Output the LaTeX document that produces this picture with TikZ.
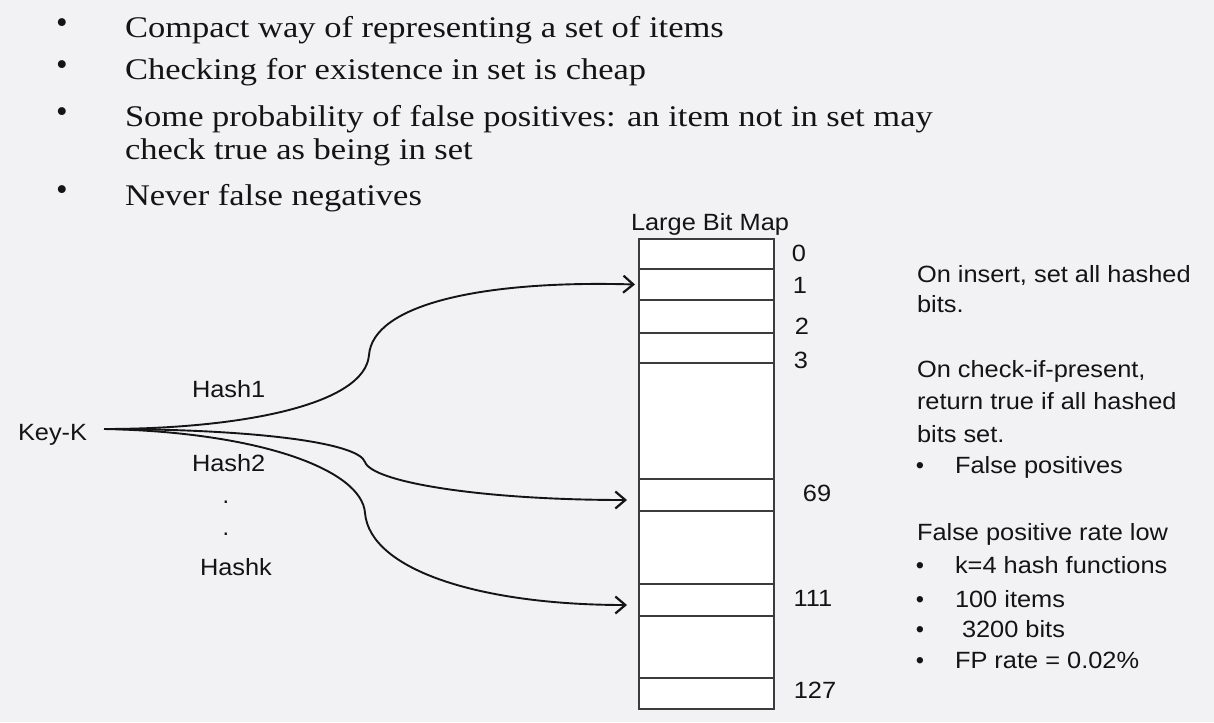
\documentclass[tikz,border=0pt]{standalone}
\usepackage{fontspec}
\usepackage{graphicx}
\setmainfont{Liberation Serif}
\newfontfamily\arialf{Liberation Sans}
\usetikzlibrary{arrows.meta}
\definecolor{bgc}{RGB}{242,242,245}
\definecolor{ink}{RGB}{20,20,20}
\definecolor{boxc}{RGB}{60,60,60}
\newcommand\topfnt{\fontsize{30}{32}\selectfont}
\newcommand\topbul{\fontsize{33}{33}\selectfont}
\newcommand\sansfnt{\arialf\fontsize{23.5}{26}\selectfont}
\newcommand\sxs[1]{\scalebox{1.15}[1]{#1}}
\newcommand\sxa[1]{\scalebox{1.08}[1]{#1}}
\begin{document}
\begin{tikzpicture}[x=1pt,y=-1pt,
  tline/.style={anchor=base west, inner sep=0pt, outer sep=0pt, text=ink, font=\topfnt},
  tbul/.style={anchor=center, inner sep=0pt, text=ink, font=\topbul},
  sline/.style={anchor=base west, inner sep=0pt, outer sep=0pt, text=ink, font=\sansfnt},
  sbul/.style={anchor=base, inner sep=0pt, text=ink, font=\sansfnt},
  slab/.style={anchor=center, inner sep=0pt, text=ink, font=\sansfnt},
  cell/.style={draw=boxc, fill=white, line width=2pt, anchor=north west, minimum width=135pt, inner sep=0pt, outer sep=0pt},
  hashline/.style={draw=ink, line width=1.9pt, -{Straight Barb[length=10pt,width=17pt,line width=2.2pt]}}
]
\useasboundingbox (0,0) rectangle (1214,722);
\fill[bgc] (0,0) rectangle (1214,722);

% top bullets
\node[tbul] (b1) at (62,26) {•};
\node[tline] (t1) at (125,38) {\sxs{Compact way of representing a set of items}};
\node[tbul] (b2) at (62,68) {•};
\node[tline] (t2) at (125,80) {\sxs{Checking for existence in set is cheap}};
\node[tbul] (b3) at (62,115) {•};
\node[tline] (t3) at (125,127) {\sxs{Some probability of false positives: an item not in set may}};
\node[tline] (t3b) at (125,160) {\sxs{check true as being in set}};
\node[tbul] (b4) at (62,193) {•};
\node[tline] (t4) at (125,205) {\sxs{Never false negatives}};

% bit map
\node[anchor=base, inner sep=0pt, text=ink, font=\sansfnt] (title) at (710,230) {\sxa{Large Bit Map}};
\node[cell, minimum height=30pt] (r0) at (639,239) {};
\node[cell, minimum height=31pt] (r1) at (639,269) {};
\node[cell, minimum height=33pt] (r2) at (639,300) {};
\node[cell, minimum height=30pt] (r3) at (639,333) {};
\node[cell, minimum height=116pt] (g1) at (639,363) {};
\node[cell, minimum height=32pt] (r69) at (639,479) {};
\node[cell, minimum height=73pt] (g2) at (639,511) {};
\node[cell, minimum height=32pt] (r111) at (639,584) {};
\node[cell, minimum height=62pt] (g3) at (639,616) {};
\node[cell, minimum height=31pt] (r127) at (639,678) {};

\node[slab] (l0) at (799,253) {\sxa{0}};
\node[slab] (l1) at (800,285) {\sxa{1}};
\node[slab] (l2) at (802,326) {\sxa{2}};
\node[slab] (l3) at (801,360) {\sxa{3}};
\node[slab] (l69) at (817,493) {\sxa{69}};
\node[slab] (l111) at (813,598) {\sxa{111}};
\node[slab] (l127) at (815,690) {\sxa{127}};

% key and hashes
\node[sline] (key) at (18,440) {\sxa{Key-K}};
\coordinate (ks) at (104,429);
\node[sline] (h1) at (192,397) {\sxa{Hash1}};
\node[sline] (h2) at (192,471) {\sxa{Hash2}};
\node[sbul] (d1) at (226,503) {.};
\node[sbul] (d2) at (226,535) {.};
\node[sline] (hk) at (200,575) {\sxa{Hashk}};

\coordinate (m1) at (369,355);
\coordinate (m2) at (365,462);
\coordinate (m3) at (365,513);
\draw[hashline] (ks) .. controls (240,429) and (365,405) .. (m1)
  .. controls (373,305) and (480,280) .. ([xshift=-4pt]r1.west);
\draw[hashline] (ks) .. controls (250,429) and (358,442) .. (m2)
  .. controls (372,482) and (480,500) .. ([xshift=-12pt,yshift=-5pt]r69.west);
\draw[hashline] (ks) .. controls (260,432) and (362,470) .. (m3)
  .. controls (370,570) and (480,605) .. ([xshift=-12pt,yshift=-5pt]r111.west);

% right text
\node[sline] (a1) at (917,282) {\sxa{On insert, set all hashed}};
\node[sline] (a2) at (917,312) {\sxa{bits.}};
\node[sline] (a3) at (917,377) {\sxa{On check-if-present,}};
\node[sline] (a4) at (917,409) {\sxa{return true if all hashed}};
\node[sline] (a5) at (917,442) {\sxa{bits set.}};
\node[sbul] (ab1) at (920,473) {•};
\node[sline] (a6) at (955,473) {\sxa{False positives}};
\node[sline] (a7) at (917,540) {\sxa{False positive rate low}};
\node[sbul] (ab2) at (920,573) {•};
\node[sline] (a8) at (955,573) {\sxa{k=4 hash functions}};
\node[sbul] (ab3) at (920,607) {•};
\node[sline] (a9) at (955,607) {\sxa{100 items}};
\node[sbul] (ab4) at (920,637) {•};
\node[sline] (a10) at (962,637) {\sxa{3200 bits}};
\node[sbul] (ab5) at (920,668) {•};
\node[sline] (a11) at (955,668) {\sxa{FP rate = 0.02\%}};
\end{tikzpicture}
\end{document}
